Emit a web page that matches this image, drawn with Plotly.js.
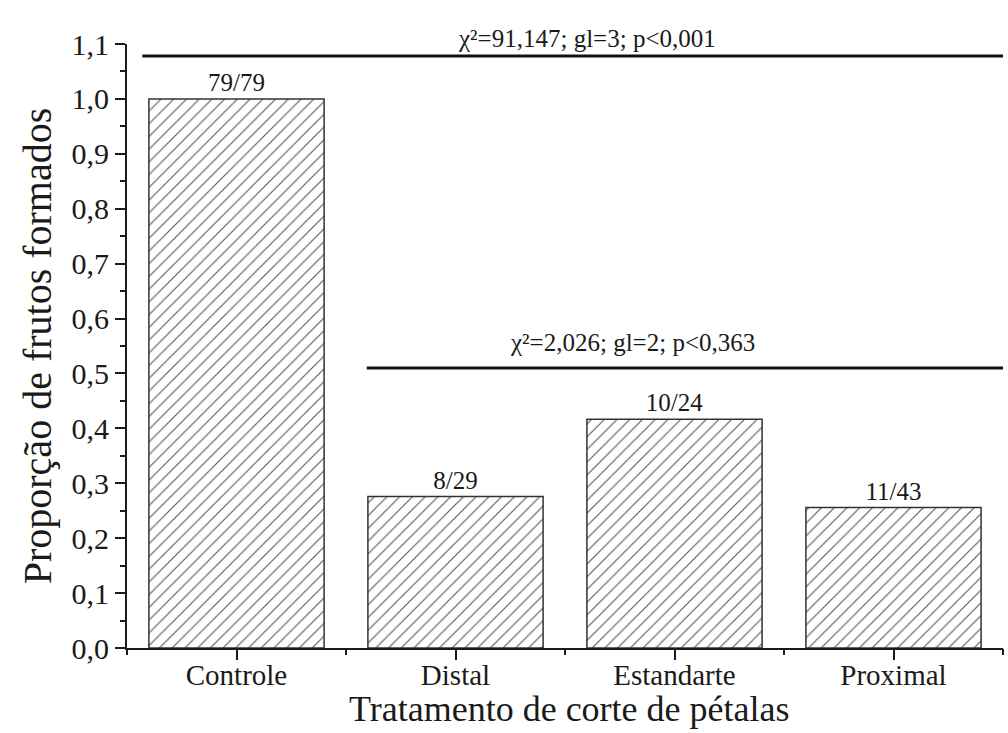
<!DOCTYPE html>
<html><head><meta charset="utf-8">
<script src="https://cdn.plot.ly/plotly-3.0.1.min.js"></script>
<style>body{margin:0;background:#fff}#c{width:1008px;height:733px}</style>
</head><body><div id="c"></div>
<script>
const categories = ['Controle','Distal','Estandarte','Proximal'];
const proportions = [79/79, 8/29, 10/24, 11/43];
const counts = ['79/79','8/29','10/24','11/43'];
const testAll = 'χ²=91,147; gl=3; p<0,001';
const testCuts = 'χ²=2,026; gl=2; p<0,363';
const xTitle = 'Tratamento de corte de pétalas';
const yTitle = 'Proporção de frutos formados';
const lineAllY = 1.078;
const lineCutsY = 0.51;

const serif = 'Liberation Serif, Times New Roman, serif';
const ink = '#1a1a1a';
const trace = {
  type: 'bar', x: categories, y: proportions, width: 0.8,
  text: counts, textposition: 'outside', cliponaxis: false,
  textfont: {family: serif, size: 25, color: ink},
  marker: {color: '#fff', line: {color: '#333', width: 1.5},
    pattern: {shape: '/', fgcolor: '#555', bgcolor: '#fff', size: 9, solidity: 0.12}},
  hoverinfo: 'skip'
};
const dummy = {type:'scatter', x:[0], y:[0], xaxis:'x2', yaxis:'y', mode:'markers', marker:{opacity:0}, showlegend:false, hoverinfo:'skip'};
const layout = {
  width: 1008, height: 733,
  margin: {l: 127, r: 5, t: 44, b: 85},
  paper_bgcolor: '#fff', plot_bgcolor: '#fff',
  separators: ',.',
  showlegend: false,
  font: {family: serif, color: ink},
  xaxis: {type: 'category', range: [-0.5, 3.5], showline: true, linecolor: ink, linewidth: 2,
    ticks: 'outside', ticklen: 10, tickwidth: 2, tickcolor: ink, showgrid: false, zeroline: false,
    ticklabelstandoff: -10,
    tickfont: {family: serif, size: 29, color: ink}, automargin: false},
  xaxis2: {overlaying: 'x', range: [-0.5, 3.5], tickmode: 'array', tickvals: [-0.5,0.5,1.5,2.5,3.5],
    ticks: 'outside', ticklen: 6, tickwidth: 2, tickcolor: ink, showticklabels: false, showgrid: false,
    zeroline: false, showline: false, side: 'bottom', anchor: 'y'},
  yaxis: {range: [0, 1.1], dtick: 0.1, tickformat: '.1f', showline: true, linecolor: ink, linewidth: 2,
    ticks: 'outside', ticklen: 10, tickwidth: 2, tickcolor: ink, showgrid: false, zeroline: false,
    minor: {dtick: 0.05, ticks: 'outside', ticklen: 5, tickwidth: 2, tickcolor: ink, showgrid: false},
    tickfont: {family: serif, size: 30, color: ink}, automargin: false,
    title: {text: yTitle, font: {family: serif, size: 40, color: ink}, standoff: 8}},
  shapes: [
    {type: 'line', xref: 'x2', yref: 'y', x0: -0.43, x1: 3.53, y0: lineAllY, y1: lineAllY, line: {color: '#111', width: 3}},
    {type: 'line', xref: 'x2', yref: 'y', x0: 0.595, x1: 3.51, y0: lineCutsY, y1: lineCutsY, line: {color: '#111', width: 3}}
  ],
  annotations: [
    {xref: 'x2', yref: 'y', x: 1.6, y: lineAllY, text: testAll, showarrow: false, yanchor: 'bottom', yshift: 2,
      font: {family: serif, size: 25, color: ink}},
    {xref: 'x2', yref: 'y', x: 1.81, y: lineCutsY, text: testCuts, showarrow: false, yanchor: 'bottom', yshift: 10,
      font: {family: serif, size: 25, color: ink}},
    {xref: 'paper', yref: 'paper', x: 0.505, y: 0, text: xTitle, showarrow: false, yanchor: 'middle', yshift: -61,
      font: {family: serif, size: 36, color: ink}}
  ]
};
Plotly.newPlot('c', [trace, dummy], layout, {displayModeBar: false, staticPlot: true});
</script></body></html>
